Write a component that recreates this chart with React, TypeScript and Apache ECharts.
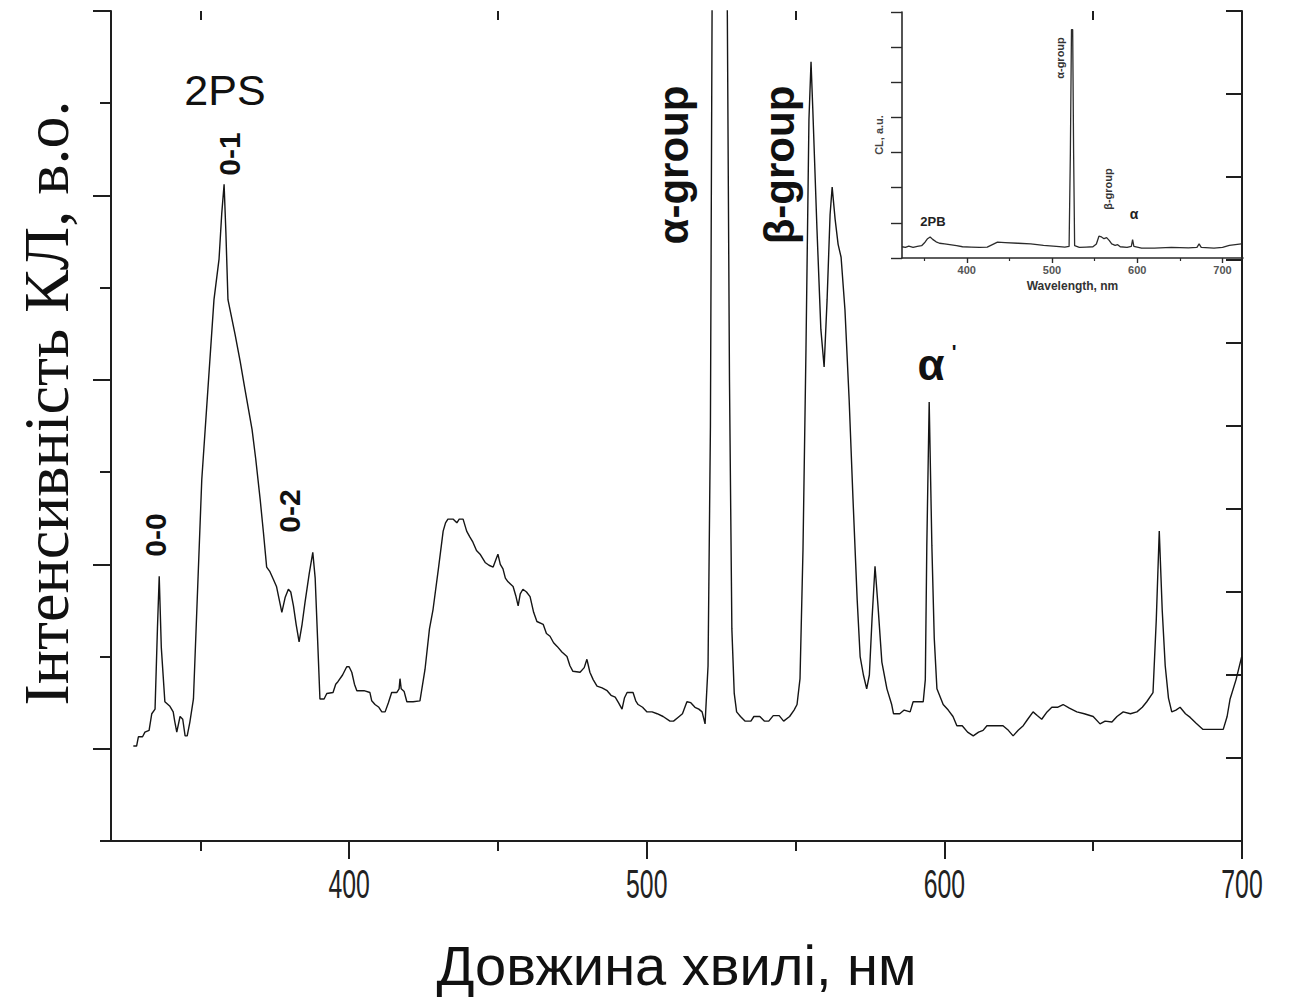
import React, { useEffect, useRef } from "react";
import * as echarts from "echarts";

// Main cathodoluminescence spectrum: wavelength (nm) and intensity (arb. units)
const mainWavelength = [
  327.5, 328.6, 329.2, 330.6, 331.4, 332.8, 333.7, 334.8, 335.6, 336.2, 336.9, 338.1, 339.8, 340.9, 341.4, 342.1,
  343.2, 344.1, 344.9, 345.6, 346.5, 347.7, 350.5, 354.6, 356.3, 357.2, 358.0, 358.6, 359.3, 361.7, 363.4, 365.0,
  367.4, 368.6, 370.1, 371.2, 372.3, 373.4, 374.5, 375.6, 376.5, 377.4, 378.5, 379.6, 380.4, 381.3, 382.2, 383.2,
  384.2, 385.2, 386.6, 387.8, 388.6, 389.4, 390.2, 391.6, 392.5, 394.6, 395.5, 396.3, 397.8, 399.2, 400.0, 400.9,
  401.8, 402.6, 405.0, 407.0, 407.6, 408.7, 410.0, 411.0, 412.1, 413.2, 414.3, 416.0, 416.8, 417.1, 417.5, 418.5,
  419.4, 421.5, 423.8, 425.5, 427.0, 428.2, 430.0, 431.6, 432.4, 433.2, 435.0, 436.2, 437.0, 438.3, 439.5, 440.5,
  441.6, 442.8, 444.0, 445.7, 447.0, 448.4, 449.3, 450.0, 450.8, 451.7, 452.5, 453.4, 455.1, 456.0, 456.8, 457.5,
  458.4, 459.6, 460.8, 462.0, 463.1, 465.2, 466.3, 467.5, 468.7, 469.9, 471.5, 473.2, 474.2, 475.2, 477.6, 479.0,
  479.9, 480.4, 480.9, 482.0, 483.3, 485.0, 486.7, 488.0, 489.4, 490.5, 491.7, 492.5, 493.4, 495.4, 496.3, 497.1,
  498.6, 500.1, 501.8, 503.5, 505.5, 507.8, 509.0, 510.5, 512.0, 513.5, 514.8, 516.2, 517.5, 518.6, 519.6, 520.6,
  521.4, 522.0, 524.5, 527.0, 527.8, 528.6, 529.4, 530.2, 531.5, 533.0, 535.0, 536.0, 538.0, 539.5, 541.0, 542.5,
  544.5, 546.0, 548.0, 549.5, 550.5, 551.5, 552.5, 553.5, 554.5, 555.2, 555.8, 557.2, 558.5, 559.6, 560.6, 561.6,
  562.3, 563.3, 564.3, 565.3, 566.6, 568.0, 569.3, 570.7, 571.7, 572.8, 573.9, 574.8, 575.7, 576.7, 577.7, 579.0,
  580.7, 582.3, 582.9, 585.0, 586.5, 588.5, 589.5, 591.0, 592.9, 593.6, 594.1, 594.9, 595.8, 596.6, 597.5, 599.6,
  601.3, 602.9, 604.2, 606.0, 607.8, 609.7, 611.5, 613.0, 614.3, 617.0, 619.7, 621.5, 623.1, 624.8, 626.5, 628.0,
  629.8, 631.2, 632.7, 634.5, 636.1, 638.0, 639.9, 642.0, 644.5, 647.0, 650.0, 652.3, 654.0, 656.3, 658.0, 660.1,
  662.5, 664.7, 666.5, 668.0, 670.1, 671.2, 672.2, 673.2, 674.2, 675.3, 676.4, 677.8, 679.2, 681.0, 682.6, 684.5,
  686.9, 690.0, 693.7, 695.0, 696.0, 698.0, 699.9,
];
const mainIntensity = [
  1.03, 1.03, 1.13, 1.13, 1.18, 1.2, 1.38, 1.43, 2.3, 2.87, 2.1, 1.51, 1.46, 1.4, 1.3, 1.18,
  1.35, 1.32, 1.14, 1.14, 1.29, 1.54, 3.92, 5.87, 6.31, 6.8, 7.12, 6.6, 5.87, 5.49, 5.2, 4.9,
  4.46, 4.15, 3.71, 3.35, 2.97, 2.92, 2.84, 2.76, 2.62, 2.48, 2.64, 2.73, 2.7, 2.55, 2.35, 2.16,
  2.35, 2.59, 2.9, 3.13, 2.85, 2.2, 1.54, 1.54, 1.6, 1.61, 1.7, 1.73, 1.8, 1.89, 1.89, 1.83,
  1.7, 1.63, 1.63, 1.61, 1.52, 1.48, 1.45, 1.4, 1.4, 1.5, 1.61, 1.61, 1.65, 1.76, 1.65, 1.62,
  1.51, 1.51, 1.52, 1.86, 2.3, 2.51, 2.95, 3.36, 3.45, 3.49, 3.49, 3.45, 3.49, 3.49, 3.36, 3.3,
  3.24, 3.15, 3.11, 3.02, 2.99, 2.97, 3.05, 3.11, 3.0, 2.95, 2.85, 2.81, 2.76, 2.66, 2.55, 2.68,
  2.73, 2.7, 2.65, 2.48, 2.38, 2.35, 2.25, 2.22, 2.15, 2.11, 2.05, 2.0, 1.9, 1.84, 1.83, 1.88,
  1.97, 1.9, 1.83, 1.75, 1.68, 1.66, 1.63, 1.58, 1.56, 1.5, 1.43, 1.55, 1.61, 1.61, 1.52, 1.48,
  1.45, 1.4, 1.4, 1.38, 1.35, 1.3, 1.3, 1.34, 1.38, 1.51, 1.5, 1.45, 1.43, 1.4, 1.27, 1.9,
  4.5, 9.4, 14.0, 9.4, 5.0, 2.3, 1.6, 1.4, 1.35, 1.3, 1.3, 1.35, 1.35, 1.3, 1.3, 1.36,
  1.36, 1.3, 1.35, 1.42, 1.48, 1.76, 3.16, 5.33, 7.82, 8.45, 7.93, 6.63, 5.55, 5.14, 5.87, 6.79,
  7.09, 6.74, 6.47, 6.33, 5.76, 4.79, 3.71, 2.62, 2.0, 1.8, 1.65, 1.8, 2.41, 2.98, 2.55, 1.94,
  1.65, 1.48, 1.38, 1.38, 1.42, 1.4, 1.51, 1.51, 1.51, 1.75, 3.2, 4.76, 3.2, 2.2, 1.65, 1.48,
  1.42, 1.35, 1.25, 1.25, 1.18, 1.14, 1.18, 1.2, 1.25, 1.25, 1.25, 1.2, 1.14, 1.2, 1.25, 1.32,
  1.4, 1.36, 1.32, 1.4, 1.45, 1.45, 1.48, 1.44, 1.4, 1.38, 1.35, 1.27, 1.3, 1.29, 1.35, 1.4,
  1.38, 1.4, 1.45, 1.51, 1.61, 2.4, 3.36, 2.5, 1.9, 1.55, 1.4, 1.42, 1.45, 1.38, 1.34, 1.28,
  1.21, 1.21, 1.21, 1.35, 1.54, 1.75, 2.0,
];

// Inset: full-range spectrum with the intense α-group line
const insetWavelength = [
  324, 328, 332, 337, 342, 347, 351, 354, 357, 360, 364, 368, 374, 380, 388, 395, 405, 415, 424, 430, 436, 445,
  460, 475, 490, 505, 515, 520, 521.5, 522.8, 524.2, 525.3, 526.5, 532, 540, 548, 552, 555, 558, 561, 564, 567,
  570, 574, 577, 580, 588, 593, 594.5, 596, 605, 620, 640, 660, 670, 672.5, 675, 690, 700, 708, 715, 722,
];
const insetIntensity = [
  0.32, 0.3, 0.34, 0.3, 0.33, 0.35, 0.45, 0.55, 0.6, 0.53, 0.46, 0.42, 0.4, 0.38, 0.35, 0.32, 0.31, 0.3, 0.31,
  0.38, 0.45, 0.44, 0.42, 0.4, 0.36, 0.33, 0.31, 0.33, 3.0, 6.5, 6.5, 3.0, 0.35, 0.3, 0.31, 0.32, 0.4, 0.62, 0.6,
  0.55, 0.58, 0.5, 0.4, 0.36, 0.38, 0.32, 0.3, 0.33, 0.52, 0.33, 0.28, 0.28, 0.3, 0.29, 0.3, 0.4, 0.3, 0.28, 0.3,
  0.36, 0.38, 0.4,
];

// Axis tick positions
const mainMajorX = [400, 500, 600, 700];
const mainMinorX = [350, 450, 550, 650];
const mainMajorY = [1, 3, 5, 7, 9];
const mainMinorY = [0, 2, 4, 6, 8];
const insetMajorX = [400, 500, 600, 700];
const insetMinorX = [350, 450, 550, 650];

const AXIS_COLOR = "#1e1e1e";
const SANS = "'Liberation Sans', Arial, sans-serif";
const SERIF = "'Liberation Serif', 'Times New Roman', serif";

const App: React.FC = () => {
  const ref = useRef<HTMLDivElement>(null);

  useEffect(() => {
    if (!ref.current) return;
    const chart = echarts.init(ref.current, undefined, { renderer: "svg" });

    const mainData = mainWavelength.map((w, i) => [w, mainIntensity[i]]);
    const insetData = insetWavelength.map((w, i) => [w, insetIntensity[i]]);

    const hidden = { show: false };
    const mainLine = { show: true, lineStyle: { color: AXIS_COLOR, width: 2 } };
    const insetLine = { show: true, lineStyle: { color: "#2a2a2a", width: 1.6 } };

    const rotText = (text: string, x: number, y: number, size: number, fill = "#111", weight = "bold") => ({
      type: "text",
      x,
      y,
      rotation: Math.PI / 2,
      style: {
        text,
        fill,
        font: `${weight} ${size}px ${SANS}`,
        align: "center",
        verticalAlign: "middle",
      },
    });

    const annotations: any[] = [
      {
        type: "text",
        x: 225,
        y: 90,
        style: { text: "2PS", fill: "#111", font: `43px ${SANS}`, align: "center", verticalAlign: "middle" },
      },
      rotText("0-1", 229, 154, 30),
      rotText("0-0", 155, 535, 30),
      rotText("0-2", 289, 511, 30),
      rotText("α-group", 673, 165, 42),
      rotText("β-group", 779, 165, 42),
      {
        type: "text",
        x: 931,
        y: 364,
        style: { text: "α", fill: "#111", font: `bold 44px ${SANS}`, align: "center", verticalAlign: "middle" },
      },
      {
        type: "text",
        x: 954,
        y: 352,
        style: { text: "'", fill: "#111", font: `bold 20px ${SANS}`, align: "center", verticalAlign: "middle" },
      },
      {
        type: "text",
        x: 933,
        y: 221,
        style: { text: "2PB", fill: "#222", font: `bold 13px ${SANS}`, align: "center", verticalAlign: "middle" },
      },
      rotText("α-group", 1060, 58, 11, "#333"),
      rotText("β-group", 1108, 189, 11, "#333"),
      {
        type: "text",
        x: 1134,
        y: 214,
        style: { text: "α", fill: "#222", font: `bold 14px ${SANS}`, align: "center", verticalAlign: "middle" },
      },
      // y-axis title
      {
        type: "text",
        x: 46,
        y: 403,
        rotation: Math.PI / 2,
        style: {
          text: "Інтенсивність КЛ, в.о.",
          fill: "#111",
          font: `64px ${SERIF}`,
          align: "center",
          verticalAlign: "middle",
        },
      },
    ];

    const option: any = {
      animation: false,
      backgroundColor: "#ffffff",
      grid: [
        { left: 111, top: 11, width: 1131, height: 831 },
        { left: 902, top: 12, width: 341, height: 246 },
      ],
      xAxis: [
        {
          type: "value",
          gridIndex: 0,
          position: "bottom",
          min: 320,
          max: 700,
          axisLine: mainLine,
          axisTick: { show: true, customValues: mainMajorX, length: 18, lineStyle: { color: AXIS_COLOR, width: 2 } },
          axisLabel: hidden,
          splitLine: hidden,
          name: "Довжина хвилі, нм",
          nameLocation: "middle",
          nameGap: 96,
          nameTextStyle: { fontSize: 56, lineHeight: 56, fontFamily: SANS, color: "#111", verticalAlign: "top" },
        },
        {
          type: "value",
          gridIndex: 0,
          position: "bottom",
          min: 320,
          max: 700,
          axisLine: hidden,
          axisTick: { show: true, customValues: mainMinorX, length: 10, lineStyle: { color: AXIS_COLOR, width: 2 } },
          axisLabel: hidden,
          splitLine: hidden,
        },
        {
          type: "value",
          gridIndex: 0,
          position: "top",
          min: 320,
          max: 700,
          axisLine: mainLine,
          axisTick: { show: true, inside: true, customValues: mainMajorX, length: 18, lineStyle: { color: AXIS_COLOR, width: 2 } },
          axisLabel: hidden,
          splitLine: hidden,
        },
        {
          type: "value",
          gridIndex: 0,
          position: "top",
          min: 320,
          max: 700,
          axisLine: hidden,
          axisTick: { show: true, inside: true, customValues: mainMinorX, length: 9, lineStyle: { color: AXIS_COLOR, width: 2 } },
          axisLabel: hidden,
          splitLine: hidden,
        },
        {
          type: "value",
          gridIndex: 1,
          position: "bottom",
          min: 324,
          max: 724,
          axisLine: insetLine,
          axisTick: { show: true, customValues: insetMajorX, length: 5, lineStyle: { color: "#2a2a2a", width: 1.4 } },
          axisLabel: {
            show: true,
            customValues: insetMajorX,
            fontSize: 11,
            fontWeight: "bold",
            fontFamily: SANS,
            color: "#555",
            margin: 6,
          },
          splitLine: hidden,
          name: "Wavelength, nm",
          nameLocation: "middle",
          nameGap: 22,
          nameTextStyle: { fontSize: 12, fontWeight: "bold", fontFamily: SANS, color: "#333", verticalAlign: "top" },
        },
        {
          type: "value",
          gridIndex: 1,
          position: "bottom",
          min: 324,
          max: 724,
          axisLine: hidden,
          axisTick: { show: true, customValues: insetMinorX, length: 3, lineStyle: { color: "#2a2a2a", width: 1.2 } },
          axisLabel: hidden,
          splitLine: hidden,
        },
      ],
      yAxis: [
        {
          type: "value",
          gridIndex: 0,
          position: "left",
          min: 0,
          max: 9,
          axisLine: mainLine,
          axisTick: { show: true, customValues: mainMajorY, length: 18, lineStyle: { color: AXIS_COLOR, width: 2 } },
          axisLabel: hidden,
          splitLine: hidden,
        },
        {
          type: "value",
          gridIndex: 0,
          position: "left",
          min: 0,
          max: 9,
          axisLine: hidden,
          axisTick: { show: true, customValues: mainMinorY, length: 11, lineStyle: { color: AXIS_COLOR, width: 2 } },
          axisLabel: hidden,
          splitLine: hidden,
        },
        {
          type: "value",
          gridIndex: 0,
          position: "right",
          min: 0,
          max: 10,
          interval: 1,
          axisLine: mainLine,
          axisTick: { show: true, inside: true, length: 16, lineStyle: { color: AXIS_COLOR, width: 2 } },
          axisLabel: hidden,
          splitLine: hidden,
        },
        {
          type: "value",
          gridIndex: 1,
          position: "left",
          min: 0,
          max: 7,
          interval: 1,
          axisLine: insetLine,
          axisTick: { show: true, length: 11, lineStyle: { color: "#2a2a2a", width: 1.4 } },
          axisLabel: hidden,
          splitLine: hidden,
          name: "CL, a.u.",
          nameLocation: "middle",
          nameRotate: 90,
          nameGap: 18,
          nameTextStyle: { fontSize: 11, fontWeight: "bold", fontFamily: SANS, color: "#444" },
        },
      ],
      series: [
        {
          type: "line",
          xAxisIndex: 0,
          yAxisIndex: 0,
          data: mainData,
          showSymbol: false,
          symbol: "none",
          clip: true,
          lineStyle: { color: "#151515", width: 1.4 },
        },
        {
          type: "line",
          xAxisIndex: 4,
          yAxisIndex: 3,
          data: insetData,
          showSymbol: false,
          symbol: "none",
          clip: true,
          lineStyle: { color: "#2b2b2b", width: 1.3 },
        },
      ],
      graphic: annotations,
    };

    chart.setOption(option);

    // Condensed tick labels of the main wavelength axis, placed through the axis scale
    const baseY = chart.convertToPixel({ yAxisIndex: 0 }, 0) as number;
    const tickLabels = mainMajorX.map((v) => {
      const px = chart.convertToPixel({ xAxisIndex: 0 }, v) as number;
      return {
        type: "text",
        x: px,
        y: baseY + 43,
        scaleX: 0.62,
        style: {
          text: String(v),
          fill: "#222",
          font: `40px ${SANS}`,
          align: "center",
          verticalAlign: "middle",
        },
      };
    });
    chart.setOption({ graphic: [...annotations, ...tickLabels] });

    return () => chart.dispose();
  }, []);

  return (
    <div
      ref={ref}
      style={{
        position: "absolute",
        left: 0,
        top: 0,
        width: 1289,
        height: 998,
        overflow: "hidden",
        background: "#fff",
      }}
    />
  );
};

export default App;
